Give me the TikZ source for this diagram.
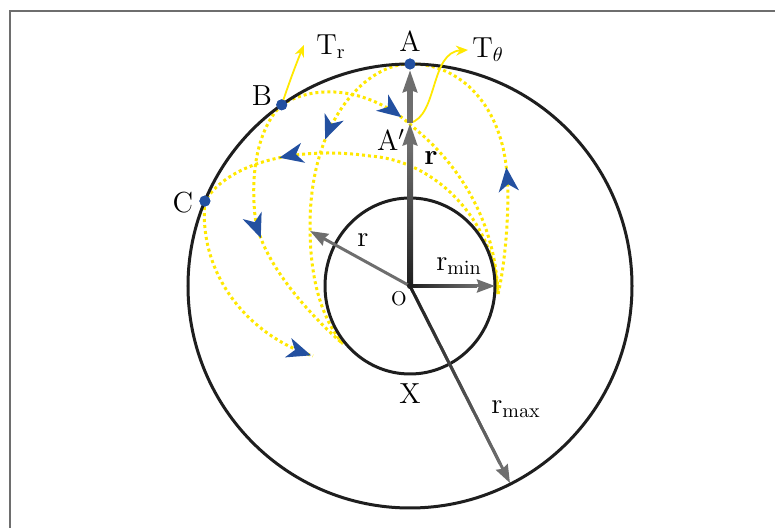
\documentclass[tikz,border=0pt]{standalone}
\usepackage{xcolor}
\usepackage{amsmath}
\usepackage{tikz}
\usetikzlibrary{arrows.meta, positioning, decorations.markings}
\definecolor{myframe}{RGB}{110,110,110}
\definecolor{mydark}{RGB}{30,30,30}
\definecolor{mygray}{RGB}{110,110,110}
\definecolor{myblue}{RGB}{35,80,160}
\definecolor{myyellow}{RGB}{255,232,0}
\tikzset{
  ring/.style={draw=mydark, line width=1.5pt},
  dot/.style={circle, fill=myblue, inner sep=0pt, minimum size=5.5pt},
  lbl/.style={font=\fontsize{14.5}{17}\selectfont, inner sep=1pt},
  radarrow/.style={-{Stealth[length=9pt, width=6.5pt, inset=1pt]},
    line width=1.5pt, color=mygray},
  bigarrow/.style={-{Stealth[length=11pt, width=7pt, inset=1pt]},
    line width=3pt, color=mygray},
  tarrow/.style={-{Stealth[length=6pt, width=5pt]}, line width=0.9pt,
    color=myyellow},
  flow/.style={myyellow, line width=1.5pt, dash pattern=on 1.5pt off 1.5pt},
  flowtip/.style={postaction={decorate}, decoration={markings,
    mark=at position #1 with {\arrow{Stealth[length=12pt, width=10pt, inset=3.5pt, color=myblue]}}}}
}

\begin{document}
\begin{tikzpicture}[x=0.5pt, y=0.5pt]
  \useasboundingbox (-410,-242) rectangle (365,286);
  \draw[myframe, line width=0.75pt] (-400,-245) -- (-400,275) -- (368,275);

  % Points
  \coordinate (O) at (0,0);
  \coordinate (Ap) at (0,163);
  \coordinate (E) at (88,-8);
  \coordinate (W) at (-67,-58);
  \coordinate (Cend) at (-97,-70);
  \coordinate (rtip) at (-100,55);
  \coordinate (rmintip) at (85,0);
  \coordinate (rmaxtip) at (-63.1:221);
  \coordinate (Trtip) at (-106,241);
  \coordinate (Tttip) at (58,236);
  \node[dot] (A) at (90:222) {};
  \node[dot] (B) at (125.3:222) {};
  \node[dot] (C) at (157.5:222) {};

  % Flow lines
  \draw[flow, flowtip=0.36] (A.center) .. controls (-40,223) and (-100,170) .. (-100,60)
    .. controls (-100,10) and (-90,-30) .. (W);
  \draw[flow, flowtip=0.45] (E) .. controls (95,20) and (100,80) .. (97,110)
    .. controls (93,180) and (50,223) .. (A.center);
  \draw[flow, flowtip=0.38] (B.center) .. controls (-90,205) and (-35,195) .. (3,159)
    .. controls (45,125) and (85,70) .. (E);
  \draw[flow, flowtip=0.77] (E) .. controls (85,60) and (30,125) .. (-40,130)
    .. controls (-110,140) and (-180,125) .. (C.center);
  \draw[flow, flowtip=0.51] (B.center) .. controls (-150,160) and (-160,120) .. (-155,70)
    .. controls (-150,30) and (-110,-20) .. (W);
  \draw[flow, flowtip=0.99] (C.center) .. controls (-212,10) and (-160,-50) .. (Cend);

  % Rings
  \draw[ring] (O) circle (222);
  \draw[ring] (O) ellipse [x radius=85, y radius=88];

  % Arrows
  \draw[tarrow] (B.center) .. controls (-122,200) and (-114,222) .. (Trtip);
  \draw[tarrow] (Ap) .. controls (28,170) and (20,234) .. (Tttip);
  \draw[bigarrow] (O) -- (Ap);
  \draw[bigarrow] (Ap) -- (A);
  \shade[bottom color=mydark, top color=mygray] (-3,0) rectangle (3,141);
  \draw[radarrow] (O) -- (rtip);
  \draw[radarrow] (O) -- (rmintip);
  \shade[left color=mydark, right color=mygray] (0,-1.5) rectangle (67,1.5);
  \draw[radarrow] (O) -- (rmaxtip);
  \shade[transform canvas={rotate=-63.1}, left color=mydark, right color=mygray]
    (0,-1.5) rectangle (200,1.5);
  \fill[mydark] (O) circle (3);
  \node[dot] at (A) {};
  \node[dot] at (B) {};
  \node[dot] at (C) {};

  % Labels
  \node[lbl, above=2pt of A] (lA) {A};
  \node[lbl] (lB) at (-148,190) {B};
  \node[lbl] (lC) at (-227,83) {C};
  \node[lbl] (lAp) at (-19,146) {A$'$};
  \node[lbl] (lr) at (21,128) {$\mathbf{r}$};
  \node[lbl] (lr2) at (-47,46) {r};
  \node[lbl] (lrmin) at (49,20) {r$_{\mathrm{min}}$};
  \node[font=\fontsize{10}{12}\selectfont] (lO) at (-11,-13) {O};
  \node[lbl] (lX) at (0,-108) {X};
  \node[lbl] (lrmax) at (106,-123) {r$_{\mathrm{max}}$};
  \node[lbl, anchor=west] (lTr) at (-96,239) {T$_{\mathrm{r}}$};
  \node[lbl, anchor=west] (lTt) at (60,236) {T$_\theta$};
\end{tikzpicture}
\end{document}
